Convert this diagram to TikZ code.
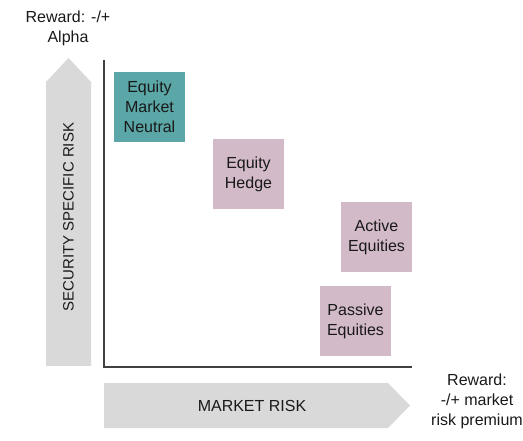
\documentclass[tikz,border=0pt]{standalone}
\usepackage{fontspec}
\setmainfont{Liberation Sans}
\usepackage{tikz}
\usetikzlibrary{positioning}
\definecolor{tealbox}{RGB}{91,166,166}
\definecolor{pinkbox}{RGB}{211,186,200}
\definecolor{greyarrow}{RGB}{217,217,217}
\definecolor{axisgrey}{RGB}{64,64,64}
\tikzset{
    stratbox/.style={
        minimum width=71pt,
        minimum height=70pt,
        inner sep=0pt,
        align=center,
        text=black!90,
        font=\fontsize{16}{20}\selectfont
    },
    % the two light grey arrows along the axes
    riskarrow/.style={
        fill=greyarrow,
        draw=none
    },
    labeltext/.style={
        align=center,
        text=black!90,
        font=\fontsize{16}{20}\selectfont
    }
}
\begin{document}
\begin{tikzpicture}[x=1pt,y=-1pt]
   \useasboundingbox (0,0) rectangle (523,441);
   \fill[riskarrow] (46,366) -- (46,82) -- (68.5,58) -- (91,82) -- (91,366) -- cycle;
   \fill[riskarrow] (104,383) -- (388,383) -- (410,405.5) -- (388,428) -- (104,428) -- cycle;
   \coordinate (ytop) at (103.5,60);
   \coordinate (origin) at (103.5,367);
   \coordinate (xend) at (412,367);
   \draw[line width=2pt, axisgrey] (ytop) -- (origin) -- (xend);

   \node[stratbox, fill=tealbox] (emn) at (149.5,107) {Equity\\Market\\Neutral};
   \node[stratbox, fill=pinkbox] (hedge) at (248.5,174) {Equity\\Hedge};
   \node[stratbox, fill=pinkbox] (active) at (376.5,237) {Active\\Equities};
   \node[stratbox, fill=pinkbox] (passive) at (355.5,321) {Passive\\Equities};

   \node[labeltext, rotate=90, font=\fontsize{15}{20}\selectfont] (ssr) at (68.5,217) {SECURITY\ SPECIFIC RISK};
   \node[labeltext] (mr) at (252,405.5) {MARKET RISK};
   \node[labeltext] (alpha) at (68,28) {Reward: -/+\\Alpha};
   \node[labeltext] (premium) at (477,401) {Reward:\\-/+ market\\risk premium};
\end{tikzpicture}
\end{document}
